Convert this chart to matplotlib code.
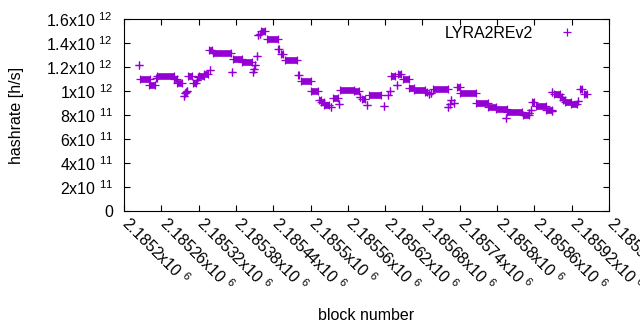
import matplotlib
matplotlib.use('Agg')
import matplotlib.pyplot as plt
import matplotlib.transforms as mtransforms
from matplotlib.lines import Line2D

# runs of blocks with the same hashrate: first block, last block, rate (x10^12 h/s)
seg_start = [2185224, 2185226, 2185241, 2185251, 2185253, 2185280, 2185286, 2185296,
             2185298, 2185300, 2185302, 2185303, 2185311, 2185317, 2185319, 2185320,
             2185328, 2185338, 2185336, 2185343, 2185374, 2185375, 2185389, 2185408,
             2185409, 2185410, 2185414, 2185416, 2185418, 2185420, 2185430, 2185447,
             2185453, 2185459, 2185480, 2185484, 2185500, 2185513, 2185517, 2185522,
             2185533, 2185536, 2185546, 2185548, 2185570, 2185580, 2185582, 2185591,
             2185594, 2185618, 2185624, 2185627, 2185630, 2185639, 2185641, 2185648,
             2185659, 2185667, 2185684, 2185690, 2185694, 2185697, 2185721, 2185724,
             2185726, 2185730, 2185735, 2185741, 2185766, 2185785, 2185798, 2185815,
             2185816, 2185841, 2185852, 2185854, 2185856, 2185862, 2185878, 2185889,
             2185889, 2185891, 2185901, 2185906, 2185910, 2185919, 2185930, 2185933,
             2185940]
seg_end = [2185224, 2185242, 2185250, 2185253, 2185280, 2185286, 2185294, 2185296,
           2185298, 2185300, 2185302, 2185310, 2185315, 2185317, 2185319, 2185328,
           2185335, 2185338, 2185342, 2185372, 2185374, 2185389, 2185406, 2185408,
           2185409, 2185410, 2185414, 2185416, 2185418, 2185427, 2185447, 2185450,
           2185456, 2185479, 2185482, 2185500, 2185512, 2185517, 2185522, 2185530,
           2185533, 2185544, 2185546, 2185570, 2185578, 2185580, 2185588, 2185591,
           2185613, 2185618, 2185624, 2185627, 2185636, 2185639, 2185646, 2185658,
           2185667, 2185684, 2185688, 2185690, 2185694, 2185721, 2185721, 2185724,
           2185726, 2185730, 2185740, 2185766, 2185785, 2185798, 2185816, 2185815,
           2185840, 2185852, 2185852, 2185854, 2185860, 2185878, 2185888, 2185889,
           2185889, 2185901, 2185905, 2185910, 2185919, 2185929, 2185930, 2185937,
           2185944]
seg_rate = [1.214, 1.097, 1.047, 1.108, 1.125, 1.100, 1.064, 0.960,
            0.981, 0.992, 1.000, 1.122, 1.070, 1.095, 1.115, 1.125,
            1.145, 1.175, 1.340, 1.313, 1.158, 1.264, 1.239, 1.158,
            1.186, 1.214, 1.295, 1.465, 1.478, 1.497, 1.431, 1.347,
            1.306, 1.256, 1.131, 1.081, 0.997, 0.925, 0.905, 0.885,
            0.866, 0.939, 0.889, 1.011, 1.003, 0.953, 0.936, 0.881,
            0.964, 0.872, 0.964, 0.997, 1.125, 1.047, 1.139, 1.097,
            1.022, 1.008, 0.994, 0.972, 0.980, 1.020, 0.869, 0.894,
            0.922, 0.900, 1.032, 0.981, 0.897, 0.869, 0.853, 0.779,
            0.821, 0.797, 0.815, 0.839, 0.908, 0.876, 0.839, 0.831,
            0.992, 0.972, 0.950, 0.922, 0.906, 0.889, 0.914, 1.014,
            0.972]

x_ticks = list(range(2185200, 2185981, 60))
y_ticks = [0, 2e11, 4e11, 6e11, 8e11, 1e12, 1.2e12, 1.4e12, 1.6e12]
y_labels = ['0', '2x10 $^{11}$', '4x10 $^{11}$', '6x10 $^{11}$', '8x10 $^{11}$',
            '1x10 $^{12}$', '1.2x10 $^{12}$', '1.4x10 $^{12}$', '1.6x10 $^{12}$']

plt.rcParams['font.family'] = ['Liberation Sans', 'DejaVu Sans']
plt.rcParams['mathtext.fontset'] = 'custom'
plt.rcParams['mathtext.rm'] = 'Liberation Sans'
plt.rcParams['mathtext.it'] = 'Liberation Sans:italic'
plt.rcParams['mathtext.bf'] = 'Liberation Sans:bold'
plt.rcParams['mathtext.default'] = 'regular'

purple = '#9400d3'
fs = 11.5

fig = plt.figure(figsize=(6.4, 3.3), dpi=100)
ax = fig.add_axes([124 / 640, 1 - 211 / 330, 485 / 640, 192 / 330])

# dense '+' points: a run is drawn as a filled bar between its end markers
for s, e, r in zip(seg_start, seg_end, seg_rate):
    ax.plot([s, e], [r * 1e12, r * 1e12], color=purple, marker='+',
            markersize=5.8, markeredgewidth=0.9, linewidth=4.8,
            solid_capstyle='butt')

ax.set_xlim(2185200, 2185980)
ax.set_ylim(0, 1.6e12)

ax.set_xticks(x_ticks)
ax.set_xticklabels(['{:g}x10 $^{{6}}$'.format(t / 1e6) for t in x_ticks],
                   rotation=-45, ha='left', va='top', rotation_mode='anchor')
ax.set_yticks(y_ticks)
ax.set_yticklabels(y_labels)

ax.tick_params(direction='in', top=True, right=True, length=4, width=0.8,
               labelsize=fs)
ax.tick_params(axis='x', pad=7)
ax.tick_params(axis='y', pad=8)
for sp in ax.spines.values():
    sp.set_linewidth(0.8)

# gnuplot starts the rotated labels right at the tick
shift = mtransforms.ScaledTranslation(0.08, 0.07, fig.dpi_scale_trans)
for lab in ax.get_xticklabels():
    lab.set_transform(lab.get_transform() + shift)

ax.set_xlabel('block number', fontsize=fs)
ax.xaxis.set_label_coords(0.5, -0.505)
ax.set_ylabel('hashrate [h/s]', fontsize=fs)
ax.yaxis.set_label_coords(-0.206, 0.5)

handle = Line2D([], [], color=purple, marker='+', linestyle='none',
                markersize=5.8, markeredgewidth=0.9)
ax.legend([handle], ['LYRA2REv2'], loc='upper right', bbox_to_anchor=(0.946, 0.965),
          frameon=False, markerfirst=False, handlelength=2.0, handletextpad=1.1,
          borderaxespad=0, borderpad=0, fontsize=fs)

fig.savefig('out.png', dpi=100)
